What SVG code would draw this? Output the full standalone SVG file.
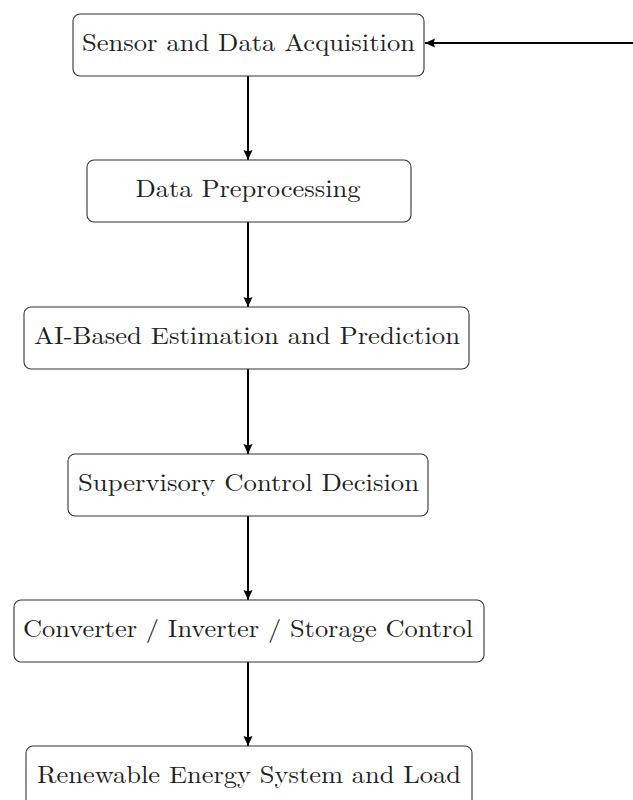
<svg xmlns="http://www.w3.org/2000/svg" width="633" height="800" viewBox="0 0 633 800">
  <defs>
    <marker id="arrow" viewBox="0 0 10 10" refX="10" refY="5" markerWidth="10" markerHeight="10" markerUnits="userSpaceOnUse" orient="auto">
      <path d="M0,0.5 L10,5 L0,9.5 L1.5,5 Z" fill="#000"/>
    </marker>
    <style>
      .box { fill: #fff; stroke: #333; stroke-width: 1.1; }
      .label { font-family: "Latin Modern Roman", "Liberation Serif", "DejaVu Serif", serif; font-size: 24px; fill: #222; text-anchor: middle; }
      .conn { stroke: #000; stroke-width: 2; fill: none; marker-end: url(#arrow); }
    </style>
  </defs>
  <rect width="633" height="800" fill="#fff"/>

  <g id="connectors">
    <line class="conn" x1="248" y1="76" x2="248" y2="160"/>
    <line class="conn" x1="248" y1="222" x2="248" y2="307"/>
    <line class="conn" x1="248" y1="369" x2="248" y2="454"/>
    <line class="conn" x1="248" y1="516" x2="248" y2="600"/>
    <line class="conn" x1="248" y1="662" x2="248" y2="746"/>
    <line class="conn" x1="633" y1="43" x2="425" y2="43"/>
  </g>

  <g id="sensor">
    <rect class="box" x="73" y="14" width="351" height="62" rx="7"/>
    <text class="label" x="248.5" y="51" textLength="333" lengthAdjust="spacingAndGlyphs">Sensor and Data Acquisition</text>
  </g>
  <g id="preprocessing">
    <rect class="box" x="87" y="160" width="324" height="62" rx="7"/>
    <text class="label" x="248" y="197" textLength="225" lengthAdjust="spacingAndGlyphs">Data Preprocessing</text>
  </g>
  <g id="estimation">
    <rect class="box" x="24" y="307" width="445" height="62" rx="7"/>
    <text class="label" x="247" y="344" textLength="426" lengthAdjust="spacingAndGlyphs">AI-Based Estimation and Prediction</text>
  </g>
  <g id="supervisory">
    <rect class="box" x="68" y="454" width="360" height="62" rx="7"/>
    <text class="label" x="248.5" y="491" textLength="341" lengthAdjust="spacingAndGlyphs">Supervisory Control Decision</text>
  </g>
  <g id="converter">
    <rect class="box" x="14" y="600" width="470" height="62" rx="7"/>
    <text class="label" x="248" y="637" textLength="450" lengthAdjust="spacingAndGlyphs">Converter / Inverter / Storage Control</text>
  </g>
  <g id="renewable">
    <rect class="box" x="26" y="746" width="446" height="62" rx="7"/>
    <text class="label" x="249" y="783" textLength="424" lengthAdjust="spacingAndGlyphs">Renewable Energy System and Load</text>
  </g>
</svg>
